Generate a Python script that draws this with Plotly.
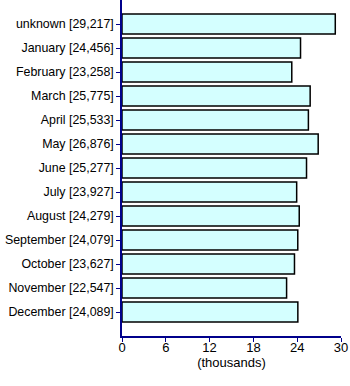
import plotly.graph_objects as go

categories = ["unknown", "January", "February", "March", "April", "May", "June",
              "July", "August", "September", "October", "November", "December"]
values = [29217, 24456, 23258, 25775, 25533, 26876, 25277,
          23927, 24279, 24079, 23627, 22547, 24089]
x_ticks = [0, 6, 12, 18, 24, 30]

labels = [f"{c} [{v:,}]" for c, v in zip(categories, values)]
xs = [v / 1000 for v in values]

fig = go.Figure(go.Bar(
    y=labels, x=xs, orientation="h", width=0.83,
    marker=dict(color="#D4FFFF", line=dict(color="black", width=1.5)),
))
fig.update_layout(
    width=350, height=386,
    margin=dict(l=122, r=9, t=0, b=50),
    paper_bgcolor="white", plot_bgcolor="white",
    font=dict(family="Liberation Sans, Arial, sans-serif", size=13, color="black"),
    showlegend=False,
)
fig.update_yaxes(
    type="category", categoryorder="array", categoryarray=labels,
    autorange=False, range=[13, -1], automargin=False,
    showline=True, linecolor="#00008B", linewidth=1.5,
    ticks="outside", ticklen=4, tickcolor="#00008B", ticklabelstandoff=0,
    tickfont=dict(size=12.4),
    showgrid=False, zeroline=False,
)
fig.update_xaxes(
    range=[0, 30], tickvals=x_ticks, ticktext=[str(t) for t in x_ticks],
    automargin=False,
    showline=True, linecolor="#00008B", linewidth=1.5,
    ticks="outside", ticklen=4, tickcolor="#00008B", ticklabelstandoff=-5,
    showgrid=False, zeroline=False,
    title=dict(text="(thousands)", standoff=0, font=dict(size=13)),
)
fig.write_html("out.html")
